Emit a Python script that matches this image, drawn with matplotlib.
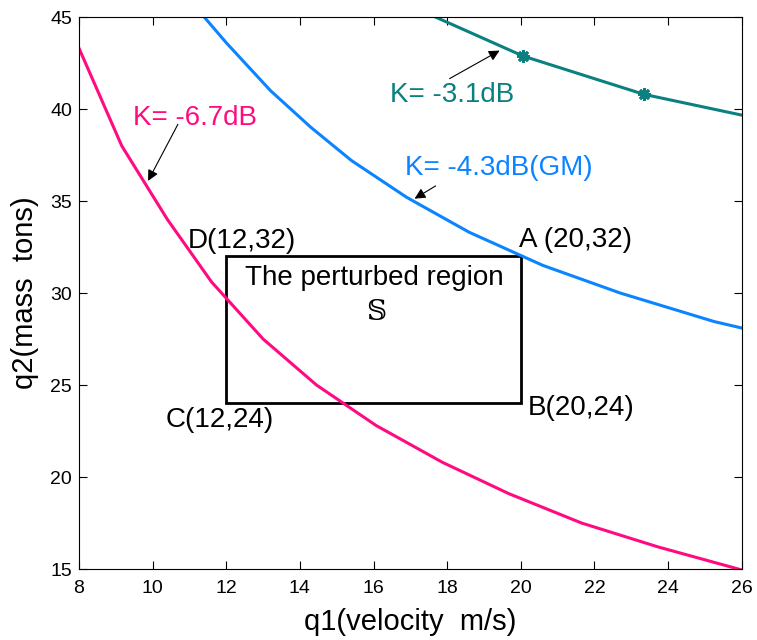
import matplotlib.pyplot as plt
from matplotlib.patches import Rectangle

plt.rcParams['font.family'] = ['Liberation Sans', 'DejaVu Sans']

# K = -6.7 dB boundary
q1_k67 = [8.0, 9.16, 10.4, 11.6, 13.0, 14.45, 16.07, 17.87, 19.67, 21.65, 23.73, 26.0]
q2_k67 = [43.3, 38.0, 34.0, 30.6, 27.5, 25.0, 22.8, 20.8, 19.1, 17.5, 16.2, 14.95]

# K = -4.3 dB (GM) boundary
q1_k43 = [11.4, 12.0, 13.2, 14.3, 15.4, 16.9, 18.6, 20.6, 22.7, 25.25, 26.0]
q2_k43 = [45.0, 43.6, 41.0, 39.0, 37.2, 35.2, 33.3, 31.5, 30.0, 28.45, 28.1]

# K = -3.1 dB boundary
q1_k31 = [17.68, 20.06, 23.34, 26.0]
q2_k31 = [45.0, 42.88, 40.8, 39.67]

# perturbed region corners
q1_box = [12, 20]
q2_box = [24, 32]

pink = '#FF0A80'
blue = '#0A84FF'
teal = '#0A8080'

fig = plt.figure(figsize=(7.57, 6.4), dpi=100)
ax = fig.add_axes([0.1044, 0.1109, 0.8754, 0.8625])

ax.plot(q1_k67, q2_k67, color=pink, lw=2.2)
ax.plot(q1_k43, q2_k43, color=blue, lw=2.2)
ax.plot(q1_k31, q2_k31, color=teal, lw=2.2, marker=(8, 2, 0), markersize=9,
        mew=2, markevery=[1, 2])

ax.add_patch(Rectangle((q1_box[0], q2_box[0]), q1_box[1] - q1_box[0], q2_box[1] - q2_box[0],
                       fill=False, ec='k', lw=2))

ax.set_xlim(8, 26)
ax.set_ylim(15, 45)
ax.set_xticks(range(8, 27, 2))
ax.set_yticks(range(15, 46, 5))
ax.tick_params(direction='in', length=6, width=0.8, labelsize=14, pad=5,
               top=True, right=True)
ax.tick_params(axis='x', pad=8)
for s in ax.spines.values():
    s.set_linewidth(0.8)

ax.set_xlabel('q1(velocity  m/s)', fontsize=21, labelpad=8)
ax.set_ylabel('q2(mass  tons)', fontsize=21, labelpad=8)

arr = dict(arrowstyle='-|>', color='k', lw=0.8, mutation_scale=16)
fs = 20

ax.text(9.47, 39.13, 'K= -6.7dB', color=pink, fontsize=fs)
ax.annotate('', xy=(9.84, 35.96), xytext=(10.72, 39.3), arrowprops=arr)

ax.text(16.46, 40.36, 'K= -3.1dB', color=teal, fontsize=fs)
ax.annotate('', xy=(19.49, 43.25), xytext=(18.0, 41.58), arrowprops=arr)

ax.text(16.86, 36.4, 'K= -4.3dB(GM)', color=blue, fontsize=fs)
ax.annotate('', xy=(17.05, 35.05), xytext=(17.75, 35.9), arrowprops=arr)

ax.text(10.94, 32.45, 'D(12,32)', fontsize=fs)
ax.text(19.94, 32.52, 'A (20,32)', fontsize=fs)
ax.text(10.34, 22.73, 'C(12,24)', fontsize=fs)
ax.text(20.2, 23.37, 'B(20,24)', fontsize=fs)
ax.text(16.02, 30.43, 'The perturbed region', fontsize=fs, ha='center')
ax.text(16.07, 28.53, '\U0001D54A', fontsize=fs, ha='center',
        family=['DejaVu Serif', 'DejaVu Sans'])

fig.savefig('out.png', dpi=100)
